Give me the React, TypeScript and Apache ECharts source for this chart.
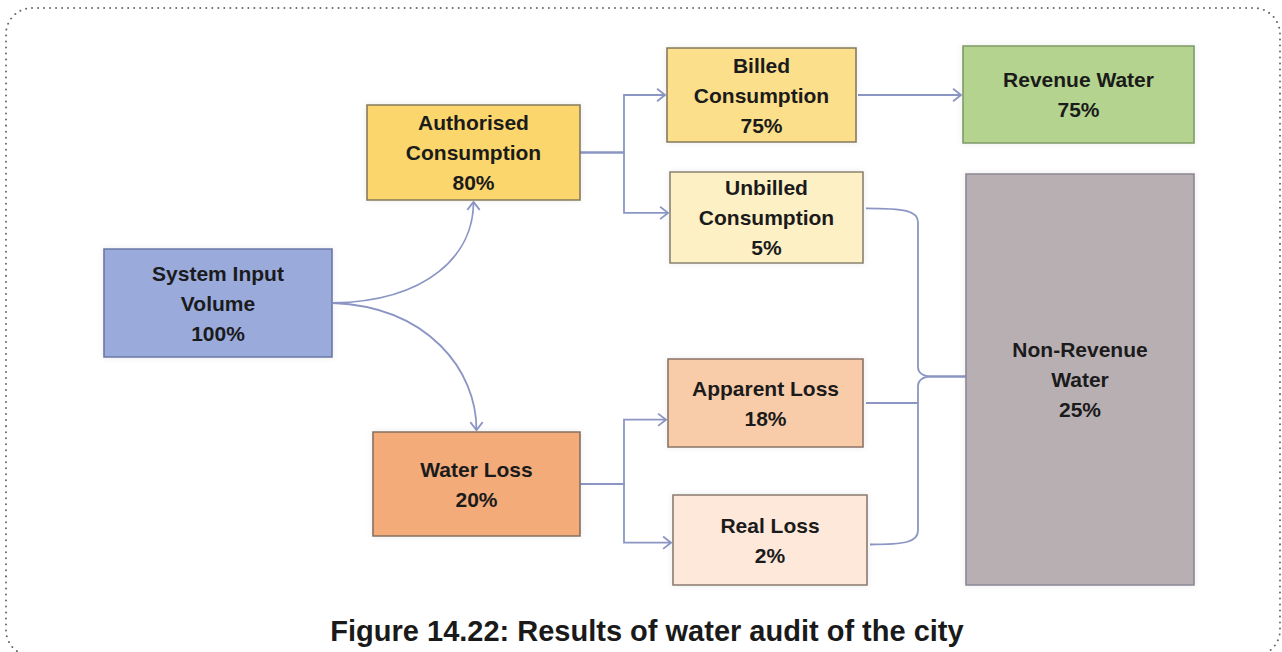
import React, { useEffect, useRef } from "react";
import * as echarts from "echarts";

// ---- Data ----
const nodeNames: string[] = [
  "System Input\nVolume",
  "Authorised\nConsumption",
  "Water Loss",
  "Billed\nConsumption",
  "Unbilled\nConsumption",
  "Apparent Loss",
  "Real Loss",
  "Revenue Water",
  "Non-Revenue\nWater",
];
const nodeShares: number[] = [100, 80, 20, 75, 5, 18, 2, 75, 25];
const linkSources: number[] = [0, 0, 1, 1, 2, 2, 3, 4, 5, 6];
const linkTargets: number[] = [1, 2, 3, 4, 5, 6, 7, 8, 8, 8];
const titleText = "Figure 14.22: Results of water audit of the city";

// ---- Layout (page pixels: x0, y0, x1, y1) ----
const boxLayout: number[][] = [
  [104, 249, 332, 357],
  [367, 105, 580, 200],
  [373, 432, 580, 536],
  [667, 48, 856, 142],
  [670, 172, 863, 263],
  [668, 359, 863, 447],
  [673, 495, 867, 585],
  [963, 46, 1194, 143],
  [966, 174, 1194, 585],
];
// vertical anchor fraction of the link end on the box (target for arrows, source for the brace)
const linkAnchorFrac: number[] = [0.5, 0.5, 0.5, 0.45, 0.69, 0.53, 0.5, 0.4, 0.5, 0.55];

const boxFill = ["#99aadb", "#fad66c", "#f2ab79", "#fcdf8a", "#fef0c5", "#f9cca9", "#fde8da", "#b3d38e", "#b8afb3"];
const boxStroke = ["#6b78a6", "#857a5c", "#86705f", "#857a5c", "#8a8270", "#8a7468", "#8a7a70", "#7f9a68", "#8c8896"];
const lineColor = "#8c96c4";
const FONT = "'Liberation Sans', Arial, Helvetica, sans-serif";

export default function App() {
  const ref = useRef<HTMLDivElement>(null);

  useEffect(() => {
    if (!ref.current) return;
    const chart = echarts.init(ref.current, undefined, { renderer: "svg" });

    const renderBox = (params: any, api: any) => {
      const i = api.value(0);
      const b = boxLayout[i];
      const p0 = api.coord([b[0], b[1]]);
      const p1 = api.coord([b[2], b[3]]);
      return {
        type: "group",
        children: [
          {
            type: "rect",
            shape: { x: p0[0], y: p0[1], width: p1[0] - p0[0], height: p1[1] - p0[1] },
            style: { fill: boxFill[i], stroke: boxStroke[i], lineWidth: 1.6, shadowBlur: 6, shadowColor: "rgba(0,0,0,0.08)" },
          },
          {
            type: "text",
            x: (p0[0] + p1[0]) / 2,
            y: (p0[1] + p1[1]) / 2,
            style: {
              text: nodeNames[i] + "\n" + api.value(1) + "%",
              align: "center",
              verticalAlign: "middle",
              fontSize: 21,
              fontWeight: "bold",
              fontFamily: FONT,
              lineHeight: 30,
              fill: "#1b1b1b",
            },
          },
        ],
      };
    };

    const renderLink = (params: any, api: any) => {
      const k = api.value(0);
      const s = boxLayout[linkSources[k]];
      const t = boxLayout[linkTargets[k]];
      const P = (x: number, y: number) => api.coord([x, y]);
      const f = (n: number) => n.toFixed(1);
      const pt = (p: number[]) => f(p[0]) + " " + f(p[1]);
      const cy = (b: number[]) => (b[1] + b[3]) / 2;
      const cx = (b: number[]) => (b[0] + b[2]) / 2;
      const anchorY = (b: number[]) => b[1] + linkAnchorFrac[k] * (b[3] - b[1]);
      let d = "";
      let tip: number[] | null = null;
      let dir: number[] = [1, 0];
      const src = linkSources[k];
      const tgt = linkTargets[k];
      if (src === 0) {
        const st = P(s[2] + 1, cy(s));
        if (tgt === 1) {
          const en = P(cx(t), t[3] + 2);
          d = "M" + pt(st) + " C" + pt(P(s[2] + 96, cy(s) - 2)) + " " + pt(P(cx(t), t[3] + 55)) + " " + pt(en);
          tip = en;
          dir = [0, -1];
        } else {
          const en = P(cx(t), t[1] - 2);
          d = "M" + pt(st) + " C" + pt(P(s[2] + 96, cy(s) + 4)) + " " + pt(P(cx(t), t[1] - 62)) + " " + pt(en);
          tip = en;
          dir = [0, 1];
        }
      } else if (src === 1 || src === 2) {
        const trunk = s[2] + 44;
        const ty = anchorY(t);
        const en = P(t[0] - 2, ty);
        d = "M" + pt(P(s[2], cy(s))) + " L" + pt(P(trunk, cy(s))) + " L" + pt(P(trunk, ty)) + " L" + pt(en);
        tip = en;
      } else if (src === 3) {
        const en = P(t[0] - 2, cy(s));
        d = "M" + pt(P(s[2] + 2, cy(s))) + " L" + pt(en);
        tip = en;
      } else {
        // brace into the non-revenue box
        const bx = t[0] - 48;
        const tipY = cy(t) - 3;
        const sx = s[2] + 3;
        const sy = anchorY(s);
        if (src === 5) {
          d = "M" + pt(P(sx, sy)) + " L" + pt(P(bx, sy));
        } else {
          const sg = src === 4 ? 1 : -1;
          d =
            "M" + pt(P(sx, sy)) +
            " C" + pt(P(bx - 14, sy)) + " " + pt(P(bx, sy + sg * 2)) + " " + pt(P(bx, sy + sg * 14)) +
            " L" + pt(P(bx, tipY - sg * 9)) +
            " C" + pt(P(bx, tipY - sg * 4)) + " " + pt(P(bx + 5, tipY)) + " " + pt(P(bx + 13, tipY)) +
            " L" + pt(P(t[0] + 7, tipY));
        }
      }
      const children: any[] = [
        { type: "path", shape: { pathData: d }, style: { fill: "none", stroke: lineColor, lineWidth: 1.8 } },
      ];
      if (tip) {
        const L = 10;
        const th = (38 * Math.PI) / 180;
        const rot = (a: number) => [
          dir[0] * Math.cos(a) - dir[1] * Math.sin(a),
          dir[0] * Math.sin(a) + dir[1] * Math.cos(a),
        ];
        const r1 = rot(th);
        const r2 = rot(-th);
        const a1 = [tip[0] - L * r1[0], tip[1] - L * r1[1]];
        const a2 = [tip[0] - L * r2[0], tip[1] - L * r2[1]];
        children.push({
          type: "path",
          shape: { pathData: "M" + pt(a1) + " L" + pt(tip) + " L" + pt(a2) },
          style: { fill: "none", stroke: lineColor, lineWidth: 1.8 },
        });
      }
      return { type: "group", children };
    };

    chart.setOption({
      animation: false,
      grid: { left: 0, right: 0, top: 0, bottom: 0 },
      xAxis: { type: "value", min: 0, max: 1282, show: false },
      yAxis: { type: "value", min: 0, max: 652, inverse: true, show: false },
      graphic: [
        {
          type: "rect",
          shape: { x: 6, y: 8, width: 1274, height: 648, r: 26 },
          style: { fill: "none", stroke: "#6a6a6a", lineWidth: 2, lineDash: [0.01, 6], lineCap: "round" },
          silent: true,
        },
        {
          type: "text",
          x: 647,
          y: 631,
          style: {
            text: titleText,
            align: "center",
            verticalAlign: "middle",
            fontSize: 29,
            fontWeight: "bold",
            fontFamily: FONT,
            fill: "#1a1a1a",
          },
        },
      ],
      series: [
        {
          type: "custom",
          coordinateSystem: "cartesian2d",
          renderItem: renderLink,
          data: linkSources.map((_, k) => [k, 0]),
          silent: true,
          z: 1,
        },
        {
          type: "custom",
          coordinateSystem: "cartesian2d",
          renderItem: renderBox,
          data: nodeShares.map((v, i) => [i, v]),
          silent: true,
          z: 2,
        },
      ],
    });

    return () => chart.dispose();
  }, []);

  return (
    <div
      ref={ref}
      style={{ position: "absolute", left: 0, top: 0, width: 1282, height: 652, background: "#ffffff" }}
    />
  );
}
